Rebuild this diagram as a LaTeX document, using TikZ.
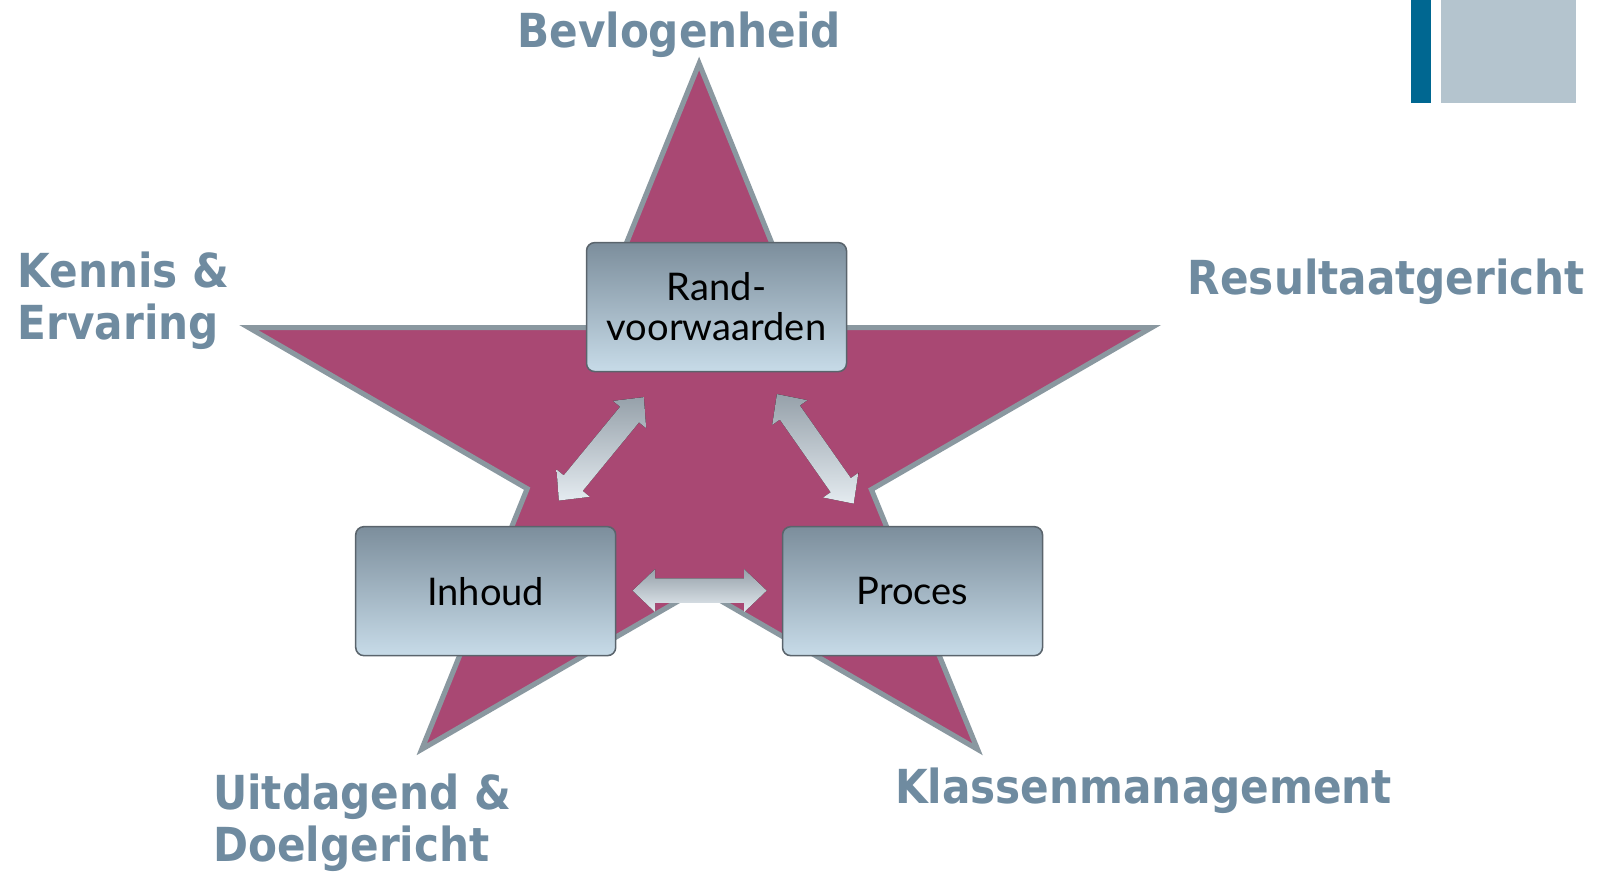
\documentclass[tikz,border=0pt]{standalone}
\usepackage{fontspec}
\usetikzlibrary{calc}
\newfontfamily\labelfont{DejaVu Sans Condensed}[BoldFont={DejaVu Sans Condensed Bold}]
\newfontfamily\boxfont{Lato}
\definecolor{starfill}{RGB}{169,72,115}
\definecolor{starline}{RGB}{138,152,160}
\definecolor{labelcol}{RGB}{111,139,160}
\definecolor{boxtop}{RGB}{124,142,156}
\definecolor{boxbot}{RGB}{199,219,232}
\definecolor{boxline}{RGB}{90,100,108}
\definecolor{arrtop}{RGB}{150,161,170}
\definecolor{arrbot}{RGB}{228,235,240}
\definecolor{barblue}{RGB}{0,103,145}
\definecolor{barlight}{RGB}{180,196,206}
\newcommand{\dblarr}[2]{%
  \fill[arr] (#1)
    -- ($(#1)!11pt!(#2)!10.5pt!90:(#2)$)
    -- ($(#1)!11pt!(#2)!6pt!90:(#2)$)
    -- ($(#2)!11pt!(#1)!6pt!-90:(#1)$)
    -- ($(#2)!11pt!(#1)!10.5pt!-90:(#1)$)
    -- (#2)
    -- ($(#2)!11pt!(#1)!10.5pt!90:(#1)$)
    -- ($(#2)!11pt!(#1)!6pt!90:(#1)$)
    -- ($(#1)!11pt!(#2)!6pt!-90:(#2)$)
    -- ($(#1)!11pt!(#2)!10.5pt!-90:(#2)$)
    -- cycle;}
\begin{document}
\begin{tikzpicture}[x=0.5pt,y=-0.5pt,
  lbl/.style={font=\labelfont\bfseries\fontsize{22.9}{25.5}\selectfont, text=labelcol, inner sep=0, anchor=base west, align=left},
  box/.style={draw=boxline, line width=0.75pt, rounded corners=4pt, top color=boxtop, bottom color=boxbot, minimum width=127pt, minimum height=63pt, font=\boxfont\fontsize{18.6}{19.5}\selectfont, align=center, inner sep=0},
  arr/.style={top color=arrtop, bottom color=arrbot, draw=none},
  starshape/.style={fill=starfill, draw=starline, line width=2.5pt, line join=miter, miter limit=10}]
\useasboundingbox (0,0) rectangle (1568,852);
% decorations top right
\fill[barblue] (1378.5,0) rectangle (1398,101);
\fill[barlight] (1408,0) rectangle (1540,101);
% star
\coordinate (T) at (683,62);
\coordinate (Lf) at (243,320);
\coordinate (R) at (1125,320);
\coordinate (BL) at (412,732);
\coordinate (BR) at (955,732);
\coordinate (I1) at (578.6,320);
\coordinate (I2) at (787.4,320);
\coordinate (I3) at (851.3,478.2);
\coordinate (I4) at (683.7,575);
\coordinate (I5) at (515,477.4);
\draw[starshape] (T) -- (I2) -- (R) -- (I3) -- (BR) -- (I4) -- (BL) -- (I5) -- (Lf) -- (I1) -- cycle;
% boxes
\node[box] (rand) at (700,300) {Rand-\\voorwaarden};
\node[box] (inh) at (474.5,577.5) {Inhoud};
\node[box] (proc) at (891.5,577.5) {Proces};
% arrows
\coordinate (a1s) at (546,489);
\coordinate (a1e) at (629,388);
\coordinate (a2s) at (759,385);
\coordinate (a2e) at (834,492);
\coordinate (a3s) at (618,577);
\coordinate (a3e) at (749,577);
\dblarr{a1s}{a1e}
\dblarr{a2s}{a2e}
\dblarr{a3s}{a3e}
% labels
\node[lbl] (bev) at (505,46) {Bevlogenheid};
\node[lbl] (ken) at (17,332) {Kennis \&\\Ervaring};
\node[lbl] (res) at (1160,288) {Resultaatgericht};
\node[lbl] (uit) at (208,842) {Uitdagend \&\\Doelgericht};
\node[lbl] (kla) at (874,785) {Klassenmanagement};
\end{tikzpicture}
\end{document}
